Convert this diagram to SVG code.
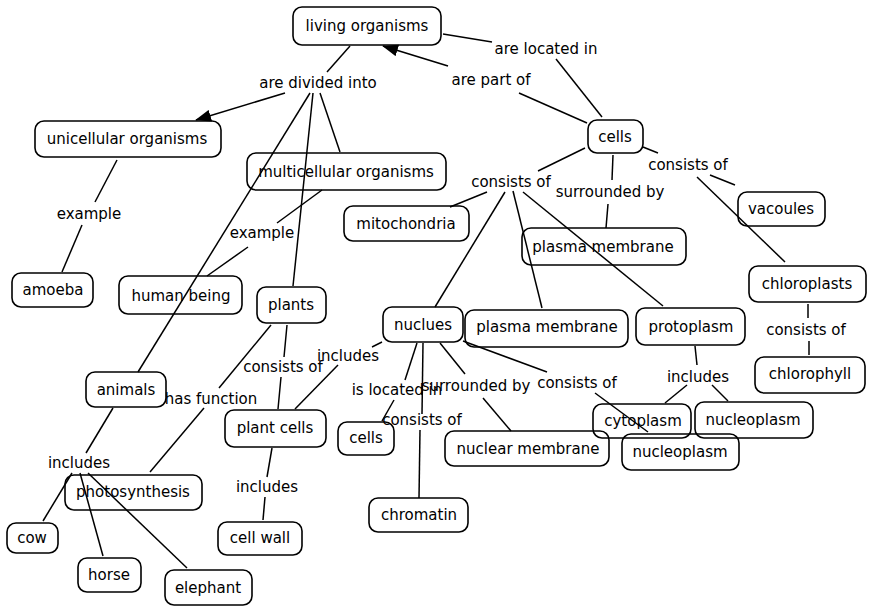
<svg xmlns="http://www.w3.org/2000/svg" width="869" height="606" viewBox="0 0 869 606">
<defs>
<style>
.box{fill:none;stroke:#000;stroke-width:1.6}
text{font-family:"DejaVu Sans","Liberation Sans",sans-serif;font-size:15px;fill:#000;text-anchor:middle}
.c line{stroke:#000;stroke-width:1.5}
</style>
<marker id="arr" viewBox="0 0 16 12" refX="15" refY="6" markerWidth="16" markerHeight="12" markerUnits="userSpaceOnUse" orient="auto">
<path d="M0,0 L16,6 L0,12 Z" fill="#000"/>
</marker>
</defs>
<rect width="869" height="606" fill="#fff"/>
<g id="connectors" class="c">
<line x1="350" y1="46" x2="327" y2="72"/>
<line x1="285" y1="93" x2="196" y2="120" marker-end="url(#arr)"/>
<line x1="320" y1="93" x2="340" y2="152"/>
<line x1="313" y1="93" x2="293" y2="286"/>
<line x1="310" y1="93" x2="138" y2="372"/>
<line x1="602" y1="117" x2="556" y2="59"/>
<line x1="492" y1="42" x2="443" y2="34"/>
<line x1="587" y1="123" x2="519" y2="93"/>
<line x1="448" y1="66" x2="383" y2="46" marker-end="url(#arr)"/>
<line x1="585" y1="148" x2="538" y2="171"/>
<line x1="487" y1="192" x2="450" y2="207"/>
<line x1="505" y1="192" x2="435" y2="307"/>
<line x1="513" y1="191" x2="542" y2="308"/>
<line x1="523" y1="192" x2="663" y2="306"/>
<line x1="613" y1="155" x2="612" y2="180"/>
<line x1="608" y1="204" x2="606" y2="228"/>
<line x1="643" y1="147" x2="658" y2="153"/>
<line x1="710" y1="175" x2="735" y2="185"/>
<line x1="697" y1="177" x2="785" y2="262"/>
<line x1="808" y1="304" x2="808" y2="318"/>
<line x1="809" y1="341" x2="809" y2="355"/>
<line x1="117" y1="160" x2="95" y2="202"/>
<line x1="82" y1="225" x2="62" y2="272"/>
<line x1="322" y1="190" x2="277" y2="223"/>
<line x1="248" y1="247" x2="207" y2="276"/>
<line x1="287" y1="325" x2="284" y2="357"/>
<line x1="281" y1="377" x2="278" y2="409"/>
<line x1="271" y1="325" x2="219" y2="388"/>
<line x1="204" y1="408" x2="150" y2="472"/>
<line x1="382" y1="342" x2="372" y2="347"/>
<line x1="338" y1="365" x2="295" y2="409"/>
<line x1="113" y1="408" x2="86" y2="453"/>
<line x1="72" y1="473" x2="43" y2="521"/>
<line x1="80" y1="473" x2="103" y2="556"/>
<line x1="88" y1="473" x2="187" y2="568"/>
<line x1="272" y1="448" x2="267" y2="477"/>
<line x1="265" y1="497" x2="263" y2="520"/>
<line x1="417" y1="343" x2="405" y2="380"/>
<line x1="394" y1="400" x2="382" y2="421"/>
<line x1="423" y1="343" x2="422" y2="414"/>
<line x1="420" y1="430" x2="419" y2="498"/>
<line x1="440" y1="343" x2="465" y2="374"/>
<line x1="483" y1="398" x2="511" y2="431"/>
<line x1="463" y1="341" x2="547" y2="372"/>
<line x1="595" y1="393" x2="648" y2="432"/>
<line x1="695" y1="346" x2="697" y2="365"/>
<line x1="687" y1="385" x2="665" y2="403"/>
<line x1="712" y1="385" x2="728" y2="401"/>
</g>
<g id="labels">
<text x="318" y="88">are divided into</text>
<text x="546" y="54">are located in</text>
<text x="491" y="85">are part of</text>
<text x="89" y="219">example</text>
<text x="262" y="238">example</text>
<text x="511" y="187">consists of</text>
<text x="610" y="197">surrounded by</text>
<text x="688" y="170">consists of</text>
<text x="806" y="335">consists of</text>
<text x="283" y="372">consists of</text>
<text x="348" y="361">includes</text>
<text x="211" y="404">has function</text>
<text x="397" y="395">is located in</text>
<text x="476" y="391">surrounded by</text>
<text x="577" y="388">consists of</text>
<text x="422" y="425">consists of</text>
<text x="698" y="382">includes</text>
<text x="79" y="468">includes</text>
<text x="267" y="492">includes</text>
</g>
<g id="n-living"><rect class="box" x="293" y="7" width="148" height="38" rx="9"/><text x="367" y="31">living organisms</text></g>
<g id="n-unicellular"><rect class="box" x="35" y="121" width="186" height="36" rx="9"/><text x="127" y="144">unicellular organisms</text></g>
<g id="n-multicellular"><rect class="box" x="247" y="153" width="199" height="37" rx="9"/><text x="346" y="177">multicellular organisms</text></g>
<g id="n-cells"><rect class="box" x="588" y="120" width="55" height="33" rx="9"/><text x="615" y="142">cells</text></g>
<g id="n-mitochondria"><rect class="box" x="344" y="206" width="125" height="35" rx="9"/><text x="406" y="229">mitochondria</text></g>
<g id="n-vacoules"><rect class="box" x="738" y="192" width="87" height="34" rx="9"/><text x="781" y="214">vacoules</text></g>
<g id="n-plasma1"><rect class="box" x="522" y="228" width="164" height="37" rx="9"/><text x="603" y="252">plasma membrane</text></g>
<g id="n-amoeba"><rect class="box" x="12" y="273" width="81" height="34" rx="9"/><text x="53" y="295">amoeba</text></g>
<g id="n-human"><rect class="box" x="119" y="276" width="123" height="38" rx="9"/><text x="181" y="301">human being</text></g>
<g id="n-plants"><rect class="box" x="257" y="287" width="69" height="36" rx="9"/><text x="291" y="310">plants</text></g>
<g id="n-chloroplasts"><rect class="box" x="749" y="266" width="117" height="36" rx="9"/><text x="807" y="289">chloroplasts</text></g>
<g id="n-nuclues"><rect class="box" x="383" y="307" width="80" height="35" rx="9"/><text x="423" y="330">nuclues</text></g>
<g id="n-plasma2"><rect class="box" x="465" y="310" width="163" height="37" rx="9"/><text x="547" y="332">plasma membrane</text></g>
<g id="n-protoplasm"><rect class="box" x="636" y="308" width="109" height="37" rx="9"/><text x="691" y="332">protoplasm</text></g>
<g id="n-chlorophyll"><rect class="box" x="755" y="357" width="110" height="36" rx="9"/><text x="810" y="379">chlorophyll</text></g>
<g id="n-animals"><rect class="box" x="86" y="372" width="80" height="35" rx="9"/><text x="126" y="395">animals</text></g>
<g id="n-plantcells"><rect class="box" x="225" y="410" width="101" height="37" rx="9"/><text x="275" y="433">plant cells</text></g>
<g id="n-cells2"><rect class="box" x="338" y="422" width="56" height="33" rx="9"/><text x="366" y="443">cells</text></g>
<g id="n-cytoplasm"><rect class="box" x="593" y="404" width="98" height="34" rx="9"/><text x="643" y="426">cytoplasm</text></g>
<g id="n-nucleoplasm1"><rect class="box" x="695" y="402" width="118" height="36" rx="9"/><text x="753" y="425">nucleoplasm</text></g>
<g id="n-nucleoplasm2"><rect class="box" x="622" y="434" width="117" height="36" rx="9"/><text x="680" y="457">nucleoplasm</text></g>
<g id="n-nuclearmembrane"><rect class="box" x="445" y="431" width="164" height="35" rx="9"/><text x="528" y="454">nuclear membrane</text></g>
<g id="n-photosynthesis"><rect class="box" x="65" y="475" width="137" height="35" rx="9"/><text x="133" y="497">photosynthesis</text></g>
<g id="n-chromatin"><rect class="box" x="369" y="498" width="99" height="34" rx="9"/><text x="419" y="520">chromatin</text></g>
<g id="n-cow"><rect class="box" x="7" y="523" width="51" height="30" rx="9"/><text x="32" y="543">cow</text></g>
<g id="n-cellwall"><rect class="box" x="218" y="522" width="84" height="33" rx="9"/><text x="260" y="543">cell wall</text></g>
<g id="n-horse"><rect class="box" x="78" y="558" width="63" height="34" rx="9"/><text x="109" y="580">horse</text></g>
<g id="n-elephant"><rect class="box" x="165" y="570" width="87" height="35" rx="9"/><text x="208" y="593">elephant</text></g>
</svg>
